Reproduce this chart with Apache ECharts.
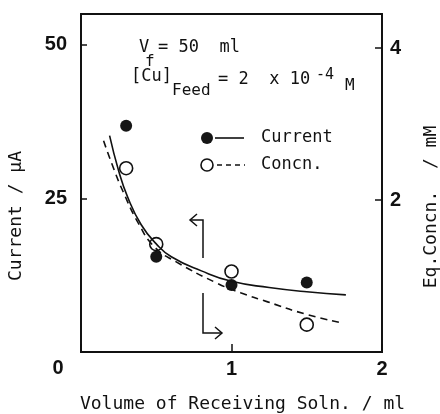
<!DOCTYPE html>
<html><head><meta charset="utf-8">
<script src="https://cdn.jsdelivr.net/npm/echarts@6/dist/echarts.min.js"></script>
<style>html,body{margin:0;padding:0;background:#fff}#c{width:440px;height:414px}</style>
</head><body><div id="c"></div>
<script>
// measured points
const volumes = [0.3, 0.5, 1.0, 1.5];
const currentValues = [36.8, 15.5, 10.9, 11.3];
const concnValues = [2.42, 1.42, 1.06, 0.36];
// fitted curves
const currentCurveX = [0.19, 0.25, 0.31, 0.4, 0.5, 0.6, 0.8, 1.0, 1.25, 1.5, 1.76];
const currentCurveY = [35.2, 29.5, 25.2, 20.7, 17.6, 15.5, 13.2, 11.5, 10.5, 9.8, 9.3];
const concnCurveX = [0.15, 0.22, 0.28, 0.38, 0.49, 0.63, 0.9, 1.06, 1.24, 1.49, 1.74];
const concnCurveY = [2.78, 2.40, 2.11, 1.70, 1.38, 1.19, 0.91, 0.78, 0.66, 0.50, 0.38];
// tick labels
const xTickLabels = [1, 2];
const leftTickLabels = [25, 50];
const rightTickLabels = [2, 4];

const zip = (a, b) => a.map((v, i) => [v, b[i]]);
const mono = '"DejaVu Sans Mono", monospace';
const bold = 'bold 20px "Liberation Sans", Arial, sans-serif';
const chart = echarts.init(document.getElementById('c'), null, {renderer: 'canvas'});

const tickLabelStyle = {fontFamily: '"Liberation Sans", Arial, sans-serif', fontWeight: 'bold', fontSize: 20, color: '#111'};

chart.setOption({
  animation: false,
  backgroundColor: '#fff',
  grid: {left: 81, right: 58, top: 14, bottom: 62, show: true, borderColor: '#111', borderWidth: 1.8,
         containLabel: false, outerBoundsMode: 'none'},
  xAxis: {
    type: 'value', min: 0, max: 2, interval: 1,
    name: 'Volume of Receiving Soln. / ml', nameLocation: 'middle', nameGap: 43,
    nameTextStyle: {fontFamily: mono, fontSize: 18, color: '#111', padding: [0, 0, 0, 22]},
    axisLine: {show: true, onZero: false, lineStyle: {color: '#111', width: 1.8}},
    axisTick: {show: true, inside: true, length: 8, lineStyle: {color: '#111', width: 1.5}},
    axisLabel: Object.assign({margin: 7, formatter: v => xTickLabels.includes(v) ? String(v) : ''}, tickLabelStyle),
    splitLine: {show: false}
  },
  yAxis: [{
    type: 'value', min: 0, max: 55, interval: 25, position: 'left',
    name: 'Current / μA', nameLocation: 'middle', nameGap: 56, nameRotate: 90,
    nameTextStyle: {fontFamily: mono, fontSize: 18, color: '#111', padding: [0, 66, 0, 0]},
    axisLine: {show: true, lineStyle: {color: '#111', width: 1.8}},
    axisTick: {show: true, inside: true, length: 6, lineStyle: {color: '#111', width: 1.5}},
    axisLabel: Object.assign({margin: 14, showMaxLabel: false, formatter: v => leftTickLabels.includes(v) ? String(v) : ''}, tickLabelStyle),
    splitLine: {show: false}
  }, {
    type: 'value', min: 0, max: 4.45, interval: 2, position: 'right',
    name: 'Eq.Concn.  / mM', nameLocation: 'middle', nameGap: 40, nameRotate: 90,
    nameTextStyle: {fontFamily: mono, fontSize: 18, color: '#111', padding: [0, 48, 0, 0]},
    axisLine: {show: true, lineStyle: {color: '#111', width: 1.8}},
    axisTick: {show: true, inside: true, length: 7, lineStyle: {color: '#111', width: 1.5}},
    axisLabel: Object.assign({margin: 8, showMaxLabel: false, formatter: v => rightTickLabels.includes(v) ? String(v) : ''}, tickLabelStyle),
    splitLine: {show: false}
  }],
  series: [{
    name: 'Current fit', type: 'line', yAxisIndex: 0, smooth: true, showSymbol: false,
    data: zip(currentCurveX, currentCurveY),
    lineStyle: {color: '#111', width: 1.6}
  }, {
    name: 'Concn. fit', type: 'line', yAxisIndex: 1, smooth: true, showSymbol: false,
    data: zip(concnCurveX, concnCurveY),
    lineStyle: {color: '#111', width: 1.6, type: [7, 5]}
  }, {
    name: 'Current', type: 'scatter', yAxisIndex: 0, symbol: 'circle', symbolSize: 12,
    data: zip(volumes, currentValues),
    itemStyle: {color: '#161616', opacity: 1}
  }, {
    name: 'Concn.', type: 'scatter', yAxisIndex: 1, symbol: 'circle', symbolSize: 13,
    data: zip(volumes, concnValues),
    itemStyle: {color: '#fff', borderColor: '#111', borderWidth: 1.6, opacity: 1}
  }],
  graphic: [
    {type: 'text', x: 58, y: 368, style: {text: '0', font: bold, fill: '#111', align: 'center', verticalAlign: 'middle'}},
    // annotation
    {type: 'text', x: 139, y: 48, style: {text: 'V', font: '17px ' + mono, fill: '#111', verticalAlign: 'middle'}},
    {type: 'text', x: 145, y: 62, style: {text: 'f', font: '16px ' + mono, fill: '#111', verticalAlign: 'middle'}},
    {type: 'text', x: 158, y: 48, style: {text: '= 50  ml', font: '17px ' + mono, fill: '#111', verticalAlign: 'middle'}},
    {type: 'text', x: 131, y: 77, style: {text: '[Cu]', font: '17px ' + mono, fill: '#111', verticalAlign: 'middle'}},
    {type: 'text', x: 172, y: 91, style: {text: 'Feed', font: '16px ' + mono, fill: '#111', verticalAlign: 'middle'}},
    {type: 'text', x: 218, y: 80, style: {text: '= 2  x 10', font: '17px ' + mono, fill: '#111', verticalAlign: 'middle'}},
    {type: 'text', x: 316, y: 75, style: {text: '-4', font: '15px ' + mono, fill: '#111', verticalAlign: 'middle'}},
    {type: 'text', x: 345, y: 86, style: {text: 'M', font: '16px ' + mono, fill: '#111', verticalAlign: 'middle'}},
    // legend
    {type: 'circle', shape: {cx: 207, cy: 138, r: 6}, style: {fill: '#161616'}},
    {type: 'line', shape: {x1: 215, y1: 138, x2: 244, y2: 138}, style: {stroke: '#111', lineWidth: 1.6}},
    {type: 'text', x: 261, y: 138, style: {text: 'Current', font: '17px ' + mono, fill: '#111', verticalAlign: 'middle'}},
    {type: 'circle', shape: {cx: 207, cy: 165, r: 6}, style: {fill: '#fff', stroke: '#111', lineWidth: 1.6}},
    {type: 'line', shape: {x1: 217, y1: 165, x2: 245, y2: 165}, style: {stroke: '#111', lineWidth: 1.6, lineDash: [5, 4]}},
    {type: 'text', x: 261, y: 165, style: {text: 'Concn.', font: '17px ' + mono, fill: '#111', verticalAlign: 'middle'}},
    // axis arrows
    {type: 'polyline', shape: {points: [[203, 258], [203, 220], [190, 220]]}, style: {stroke: '#111', lineWidth: 1.5, fill: null}},
    {type: 'polyline', shape: {points: [[197, 214], [190, 220], [197, 226]]}, style: {stroke: '#111', lineWidth: 1.5, fill: null}},
    {type: 'polyline', shape: {points: [[203, 293], [203, 333], [222, 333]]}, style: {stroke: '#111', lineWidth: 1.5, fill: null}},
    {type: 'polyline', shape: {points: [[215, 327], [222, 333], [215, 339]]}, style: {stroke: '#111', lineWidth: 1.5, fill: null}}
  ]
});
</script></body></html>
